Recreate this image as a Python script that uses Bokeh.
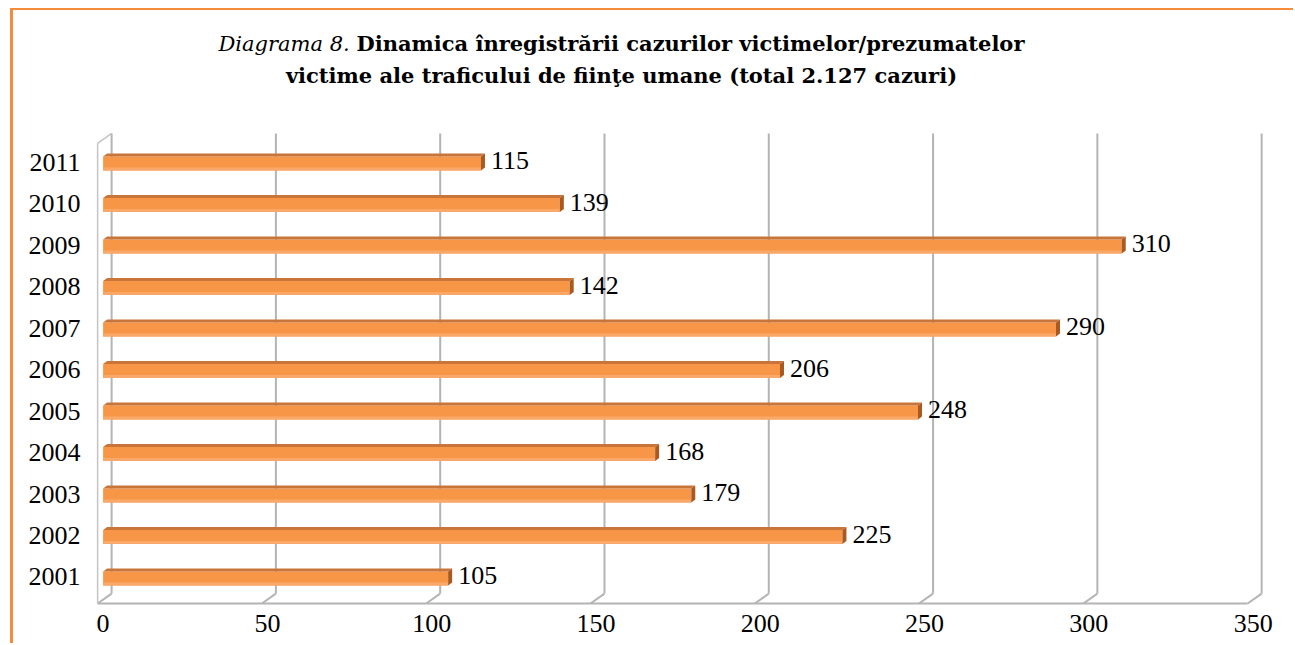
from bokeh.plotting import figure
from bokeh.models import Range1d, FixedTicker, Div, ColumnDataSource
from bokeh.layouts import column
from bokeh.core.properties import value
from bokeh.embed import file_html
from bokeh.resources import INLINE

# ---- data ----
years = ["2001", "2002", "2003", "2004", "2005", "2006", "2007", "2008", "2009", "2010", "2011"]
cases = [105, 225, 179, 168, 248, 206, 290, 142, 310, 139, 115]
x_ticks = [0, 50, 100, 150, 200, 250, 300, 350]
title_italic = "Diagrama 8."
title_bold_1 = "Dinamica înregistrării cazurilor victimelor/prezumatelor"
title_bold_2 = "victime ale traficului de fiinţe umane (total 2.127 cazuri)"

FONT = "Liberation Serif"
TITLE_FONT = "DejaVu Serif"
ORANGE = "#F68C3A"

# pixel scales (used only for the pseudo-3D offsets)
KX = 3.286   # px per x unit
KY = 41.5    # px per category step
DXB = 8.5 / KX   # back-wall x offset
DXF = 5.5 / KX   # front x offset
HALF = 8.5 / KY
CAPX = 4 / KX
CAPY = 3 / KY

p = figure(width=1280, height=527,
           x_range=Range1d(-3.23, 356.8), y_range=Range1d(-0.735, 10.88),
           output_backend="svg", toolbar_location=None,
           min_border_left=79, min_border_right=18,
           min_border_top=9, min_border_bottom=36)
p.outline_line_color = None
p.xgrid.visible = False
p.ygrid.visible = False
p.background_fill_color = "white"
p.border_fill_color = "white"

n = len(years)
top_back = n - 1 + 0.69
bot_back = -0.40
bot_front = -0.64
top_front = top_back - 0.24
GRID = "#B4B4B4"

# back wall gridlines
p.segment(x0=[t + DXB for t in x_ticks], y0=[bot_back] * len(x_ticks),
          x1=[t + DXB for t in x_ticks], y1=[top_back] * len(x_ticks),
          line_color=GRID, line_width=2)
# floor diagonals
p.segment(x0=[t + DXB for t in x_ticks], y0=[bot_back] * len(x_ticks),
          x1=[t - DXF for t in x_ticks], y1=[bot_front] * len(x_ticks),
          line_color=GRID, line_width=2)
# floor front line
p.segment(x0=[x_ticks[0] - DXF], y0=[bot_front], x1=[x_ticks[-1] - DXF], y1=[bot_front],
          line_color=GRID, line_width=2)
# left side wall: top edge and front edge
p.segment(x0=[x_ticks[0] + DXB], y0=[top_back], x1=[x_ticks[0] - DXF], y1=[top_front],
          line_color="#C4C4C4", line_width=1.5)
p.segment(x0=[x_ticks[0] - DXF], y0=[top_front], x1=[x_ticks[0] - DXF], y1=[bot_front],
          line_color="#C4C4C4", line_width=1.5)

# bars
ys = list(range(n))
front_src = ColumnDataSource(dict(
    left=[0] * n, right=cases,
    bottom=[y - HALF for y in ys], top=[y + HALF - CAPY for y in ys]))
p.quad(left="left", right="right", bottom="bottom", top="top", source=front_src,
       fill_color="#F79646", line_color=None)
# lighter lower band
p.quad(left=[0] * n, right=cases,
       bottom=[y - HALF for y in ys], top=[y - HALF + 3 / KY for y in ys],
       fill_color="#F9A86A", line_color=None)
# top face and end cap
top_xs, top_ys, cap_xs, cap_ys = [], [], [], []
for y, c in zip(ys, cases):
    yt = y + HALF - CAPY
    yb = y - HALF
    top_xs.append([0, c, c + CAPX, CAPX])
    top_ys.append([yt, yt, yt + CAPY, yt + CAPY])
    cap_xs.append([c, c, c + CAPX, c + CAPX])
    cap_ys.append([yb, yt, yt + CAPY, yb + CAPY])
p.patches(xs=top_xs, ys=top_ys, fill_color="#C9753A", line_color=None)
p.patches(xs=cap_xs, ys=cap_ys, fill_color="#A95A22", line_color=None)

# value labels
p.text(x=[c + CAPX + 6 / KX for c in cases], y=[y + 1.5 / KY for y in ys],
       text=[str(c) for c in cases],
       text_font=value(FONT), text_font_size="26px", text_color="black",
       text_baseline="middle", text_align="left")

# axes
p.xaxis.ticker = FixedTicker(ticks=x_ticks)
p.xaxis.axis_line_color = None
p.xaxis.major_tick_line_color = None
p.xaxis.minor_tick_line_color = None
p.xaxis.major_label_standoff = 1
p.xaxis.major_label_text_font = FONT
p.xaxis.major_label_text_font_size = "26px"
p.xaxis.major_label_text_color = "black"

p.yaxis.ticker = FixedTicker(ticks=ys)
p.yaxis.major_label_overrides = {i: y for i, y in enumerate(years)}
p.yaxis.axis_line_color = None
p.yaxis.major_tick_line_color = None
p.yaxis.minor_tick_line_color = None
p.yaxis.major_label_standoff = 6
p.yaxis.major_label_text_font = FONT
p.yaxis.major_label_text_font_size = "26px"
p.yaxis.major_label_text_color = "black"

title_html = (
    f'<div style="width:1217px;text-align:center;font-family:\'{TITLE_FONT}\', serif;'
    f'font-size:21px;line-height:32px;padding-top:18px;color:black;">'
    f'<i>{title_italic}</i> <b>{title_bold_1}</b><br><b>{title_bold_2}</b></div>'
)
title = Div(text=title_html, width=1280, height=106, margin=0)

layout = column(title, p, spacing=0, margin=(8, 0, 0, 10),
                styles={"border-left": f"3px solid {ORANGE}", "border-top": f"2px solid {ORANGE}"})

open("out.html", "w").write(file_html(layout, INLINE))
